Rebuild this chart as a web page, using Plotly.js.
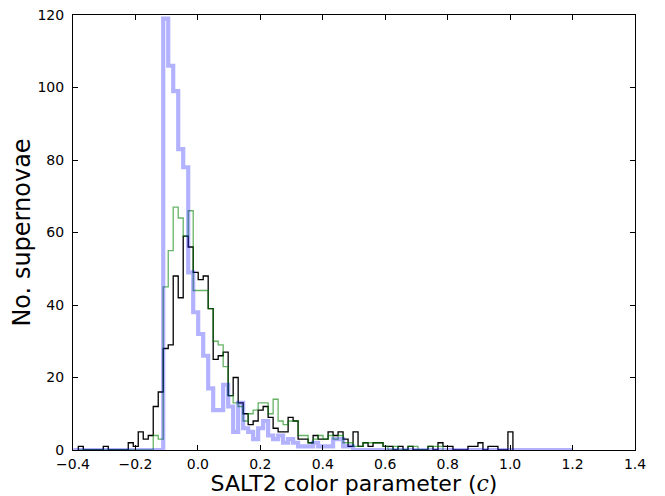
<!DOCTYPE html>
<html>
<head>
<meta charset="utf-8">
<script src="https://cdn.plot.ly/plotly-3.0.1.min.js"></script>
<style>
  body { margin: 0; background: #fff; }
  #graph { width: 665px; height: 496px; }
</style>
</head>
<body>
<div id="graph"></div>
<script>
// histogram bins (shared width), left edge of first bin per series
const binWidth = 0.016;
const blackStart = -0.383;
const greenStart = -0.383;
const blueStart = -0.399;

// black: counts per bin from -0.383
const blackCounts = [
    1, 0, 0, 0, 0, 1, 0, 0, 0, 0,
    2, 1, 5, 3, 4, 12, 16, 28, 29, 48,
    42, 59, 56, 49, 47, 48, 39, 25, 26, 27,
    15, 20, 13, 10, 7, 8, 11, 12, 9, 6,
    5, 5, 9, 8, 3, 3, 2, 4, 3, 3,
    5, 4, 5, 3, 1, 5, 1, 2, 1, 2,
    2, 1, 1, 0, 1, 0, 1, 0, 0, 0,
    1, 0, 2, 1, 1, 0, 0, 0, 1, 1,
    2, 0, 1, 1, 0, 0, 5
];

// green: counts per bin from -0.383
const greenCounts = [
    0, 0, 0, 0, 0, 0, 0, 0, 0, 0,
    0, 0, 0, 0, 0, 4, 3, 45, 55, 67,
    64, 59, 66, 44, 44, 44, 39, 30, 29, 23,
    15, 13, 12, 8, 10, 11, 13, 13, 10, 14,
    8, 7, 8, 8, 4, 4, 2, 3, 4, 3,
    4, 3, 4, 2, 2, 1, 1, 2, 2, 2,
    2, 1, 0, 1, 0, 0, 1, 1, 0, 0,
    1, 1, 1
];

// blue: counts per bin from -0.399
const blueCounts = [
    0, 0, 0, 0, 0, 0, 0, 0, 0, 0,
    0, 0, 0, 0, 0, 0, 0, 0, 119, 106,
    99, 83, 78, 49, 38, 32, 26, 17, 11, 11,
    18, 12, 5, 13, 6, 5, 3, 6, 8, 4,
    3, 4, 2, 3, 2, 1, 1, 1, 2, 1,
    1, 1, 3, 3, 1, 1, 0, 0, 0, 0,
    0, 0, 0, 0, 0, 0, 0, 0, 0, 0,
    0, 0, 0, 0, 0, 0, 0, 0, 0, 0,
    0, 0, 0, 0, 0, 0, 0, 0, 0, 0,
    0, 0, 0, 0, 0, 0, 0, 0, 0, 0
];

const xTicks = [-0.4, -0.2, 0.0, 0.2, 0.4, 0.6, 0.8, 1.0, 1.2, 1.4];
const xTickText = ["\u22120.4", "\u22120.2", "0.0", "0.2", "0.4", "0.6", "0.8", "1.0", "1.2", "1.4"];
const yTicks = [0, 20, 40, 60, 80, 100, 120];

// outline of a step histogram, like histtype='step'
function stepOutline(start, counts) {
    var x = [start];
    var y = [0];
    for (var i = 0; i < counts.length; i++) {
        x.push(start + i * binWidth);
        y.push(counts[i]);
    }
    x.push(start + counts.length * binWidth);
    y.push(0);
    return { x: x, y: y };
}

function initPlot() {
    const black = stepOutline(blackStart, blackCounts);
    const green = stepOutline(greenStart, greenCounts);
    const blue = stepOutline(blueStart, blueCounts);

    const traces = [
        {
            x: black.x, y: black.y, mode: 'lines',
            line: { color: 'black', width: 1.3, shape: 'hv' }
        },
        {
            x: green.x, y: green.y, mode: 'lines',
            line: { color: 'rgba(0,128,0,0.6)', width: 1.3, shape: 'hv' }
        },
        {
            x: blue.x, y: blue.y, mode: 'lines',
            line: { color: 'rgba(0,0,255,0.3)', width: 4.2, shape: 'hv' }
        }
    ];

    const axisCommon = {
        showgrid: false,
        zeroline: false,
        showline: true,
        linecolor: 'black',
        linewidth: 1,
        mirror: 'ticks',
        ticks: 'inside',
        ticklen: 5,
        tickcolor: 'black',
        tickfont: { family: 'DejaVu Sans', size: 14, color: 'black' }
    };

    const layout = {
        width: 665,
        height: 496,
        margin: { l: 73, r: 30, t: 15, b: 46 },
        paper_bgcolor: 'white',
        plot_bgcolor: 'white',
        showlegend: false,
        xaxis: Object.assign({}, axisCommon, {
            range: [-0.4, 1.4],
            tickvals: xTicks,
            ticktext: xTickText,
            ticklabelstandoff: 1,
            title: {
                text: 'SALT2 color parameter (<span style="font-family:DejaVu Serif"><i>c</i></span>)',
                font: { family: 'DejaVu Sans', size: 22, color: 'black' },
                standoff: 4
            }
        }),
        yaxis: Object.assign({}, axisCommon, {
            range: [0, 120],
            tickvals: yTicks,
            ticklabelstandoff: 5,
            title: {
                text: 'No. supernovae',
                font: { family: 'DejaVu Sans', size: 24, color: 'black' },
                standoff: 0
            }
        })
    };

    const config = { displayModeBar: false, staticPlot: true };
    Plotly.newPlot('graph', traces, layout, config);
}

document.addEventListener('DOMContentLoaded', initPlot);
</script>
</body>
</html>
